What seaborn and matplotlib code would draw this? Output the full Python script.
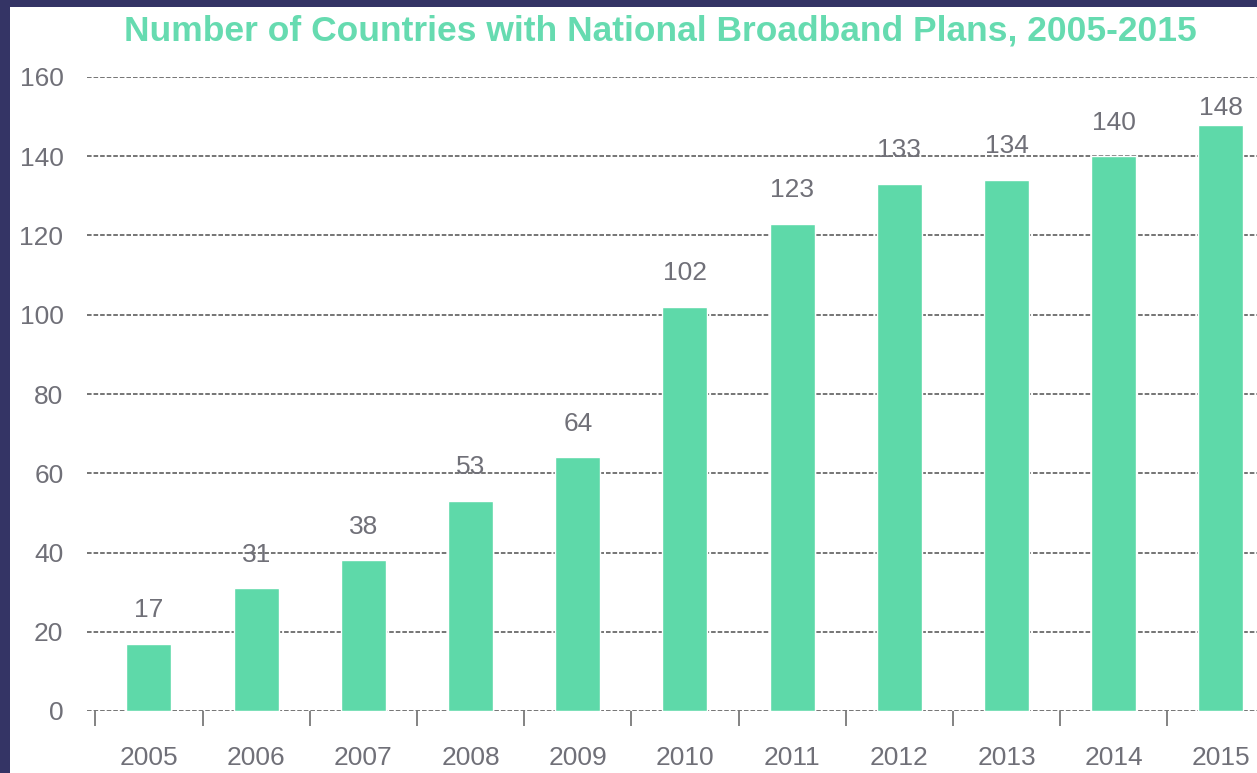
import matplotlib
matplotlib.use('Agg')
import matplotlib.pyplot as plt
import seaborn as sns
import pandas as pd
from matplotlib.patches import Rectangle

years = ['2005', '2006', '2007', '2008', '2009', '2010', '2011', '2012', '2013', '2014', '2015']
countries = [17, 31, 38, 53, 64, 102, 123, 133, 134, 140, 148]
yticks = [0, 20, 40, 60, 80, 100, 120, 140, 160]

GREEN = '#5ed9a9'
TITLE_GREEN = '#66dbb0'
NAVY = '#343465'
GRAY = '#707078'
GRID = '#4f4f4f'

sns.set_theme(style='white')
plt.rcParams['font.family'] = ['Liberation Sans', 'DejaVu Sans']

df = pd.DataFrame({'year': years, 'count': countries})

fig = plt.figure(figsize=(12.57, 7.73), dpi=100)
fig.patch.set_facecolor(NAVY)
# white panel inside the navy frame
fig.patches.append(Rectangle((10 / 1257, 0), 1, 1 - 7 / 773, transform=fig.transFigure,
                             facecolor='white', edgecolor='none', zorder=-5))

ax = fig.add_axes([87 / 1257, 62 / 773, 1 - 87 / 1257, (711 - 77) / 773])
ax.set_facecolor('none')

sns.barplot(data=df, x='year', y='count', color=GREEN, width=0.42, saturation=1, ax=ax, zorder=3)

ax.set_ylim(0, 160)
ax.set_xlim(-0.578, 10.336)
ax.set_yticks(yticks)
ax.set_xlabel('')
ax.set_ylabel('')

for y in yticks:
    ax.axhline(y, color=GRID, linewidth=1.1, linestyle=(0, (3, 1.3)), zorder=1)

# value labels (the top one is kept inside the frame)
for i, v in enumerate(countries):
    ax.text(i, min(v + 6.7, 150.4), str(v), ha='center', va='baseline', fontsize=19, color=GRAY, zorder=4)

for s in ax.spines.values():
    s.set_visible(False)

ax.tick_params(axis='y', length=0, pad=17, labelsize=19, labelcolor=GRAY)
ax.tick_params(axis='x', which='major', length=0, pad=25, labelsize=19, labelcolor=GRAY)
ax.set_xticks([i - 0.5 for i in range(len(years))], minor=True)
ax.tick_params(axis='x', which='minor', bottom=True, length=11, width=1.3, color='#7a7a7a', direction='out')

fig.text(660 / 1257, 1 - 31 / 773, 'Number of Countries with National Broadband Plans, 2005-2015',
         ha='center', va='center', fontsize=25.5, fontweight='bold', color=TITLE_GREEN)

fig.savefig('out.png', dpi=100, facecolor=fig.get_facecolor())
